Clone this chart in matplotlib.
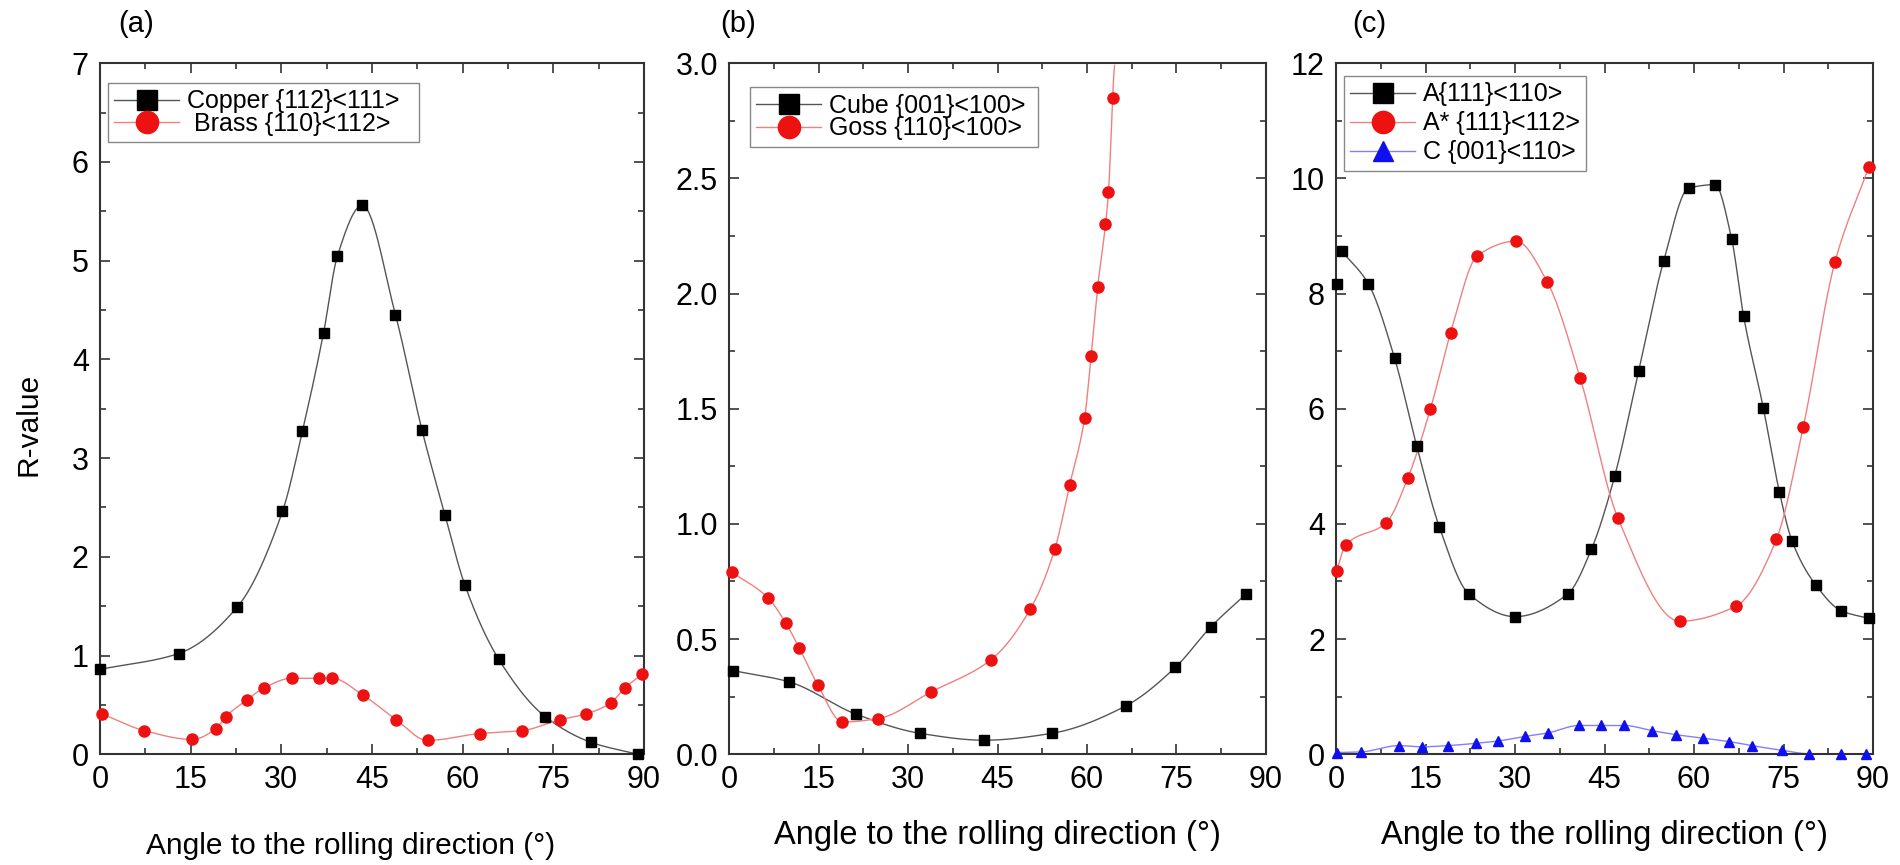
import numpy as np
import matplotlib
matplotlib.use("Agg")
import matplotlib.pyplot as plt
from matplotlib.ticker import MultipleLocator, FormatStrFormatter

plt.rcParams['font.family'] = ['Liberation Sans', 'DejaVu Sans']

# (a) Copper and Brass
copper_x = [0, 13, 22.7, 30.2, 33.5, 37, 39.3, 43.4, 48.9, 53.3, 57.1, 60.4, 66, 73.7, 81.3, 89]
copper_y = [0.86, 1.02, 1.49, 2.46, 3.27, 4.27, 5.05, 5.56, 4.45, 3.28, 2.42, 1.71, 0.96, 0.38, 0.12, 0.0]
brass_x = [0.3, 7.3, 15.3, 19.2, 20.8, 24.3, 27.1, 31.7, 36.2, 38.4, 43.5, 49.0, 54.2, 62.8, 69.9,
           76.1, 80.5, 84.5, 86.8, 89.7]
brass_y = [0.41, 0.24, 0.15, 0.26, 0.38, 0.55, 0.67, 0.77, 0.77, 0.77, 0.60, 0.35, 0.14, 0.21, 0.24,
           0.35, 0.41, 0.52, 0.67, 0.81]

# (b) Cube and Goss
cube_x = [0.7, 10, 21.3, 32, 42.8, 54.1, 66.5, 74.8, 80.8, 86.7]
cube_y = [0.363, 0.315, 0.174, 0.091, 0.061, 0.091, 0.21, 0.377, 0.554, 0.697]
goss_x = [0.5, 6.5, 9.5, 11.8, 14.9, 19.0, 25.0, 33.8, 43.9, 50.5, 54.6, 57.1, 59.6, 60.7, 61.8,
          63.1, 63.6, 64.3]
goss_y = [0.79, 0.68, 0.57, 0.46, 0.30, 0.14, 0.155, 0.27, 0.41, 0.63, 0.89, 1.17, 1.46, 1.73, 2.03,
          2.30, 2.44, 2.85]

# (c) A, A*, C
a_x = [0.1, 1.0, 5.4, 9.8, 13.5, 17.3, 22.2, 30.0, 38.8, 42.8, 46.7, 50.7, 54.9, 59.1, 63.5, 66.3,
       68.3, 71.6, 74.3, 76.4, 80.4, 84.7, 89.3]
a_y = [8.17, 8.73, 8.17, 6.88, 5.36, 3.95, 2.79, 2.39, 2.78, 3.56, 4.83, 6.65, 8.56, 9.83, 9.89, 8.95,
       7.61, 6.02, 4.56, 3.71, 2.94, 2.49, 2.36]
astar_x = [0.1, 1.6, 8.4, 12.0, 15.8, 19.2, 23.7, 30.2, 35.4, 40.9, 47.2, 57.6, 67.0, 73.8, 78.3,
           83.6, 89.3]
astar_y = [3.19, 3.63, 4.02, 4.79, 5.99, 7.32, 8.66, 8.91, 8.20, 6.54, 4.11, 2.31, 2.57, 3.73, 5.68,
           8.54, 10.2]
c_x = [0.1, 4.1, 10.5, 14.4, 18.7, 23.4, 27.1, 31.6, 35.5, 40.7, 44.4, 48.3, 53.0, 57.0, 61.5, 65.9,
       69.7, 74.7, 79.2, 84.6, 88.9]
c_y = [0.03, 0.04, 0.15, 0.13, 0.15, 0.19, 0.23, 0.31, 0.37, 0.50, 0.50, 0.50, 0.41, 0.34, 0.28, 0.22,
       0.15, 0.07, 0.01, 0.01, 0.01]

xlabel = "Angle to the rolling direction (°)"


def smooth(x, y, n=500, extend=1.0):
    # monotone cubic (pchip-like) through the points
    x = np.asarray(x, float)
    y = np.asarray(y, float)
    h = np.diff(x)
    d = np.diff(y) / h
    m = np.zeros_like(y)
    for k in range(1, len(x) - 1):
        if d[k - 1] * d[k] > 0:
            w1 = 2 * h[k] + h[k - 1]
            w2 = h[k] + 2 * h[k - 1]
            m[k] = (w1 + w2) / (w1 / d[k - 1] + w2 / d[k])
    m[0] = d[0]
    m[-1] = d[-1]
    xs = np.linspace(x[0], x[-1] + (extend - 1) * h[-1], n)
    i = np.clip(np.searchsorted(x, xs) - 1, 0, len(h) - 1)
    t = (xs - x[i]) / h[i]
    h00 = 2 * t**3 - 3 * t**2 + 1
    h10 = t**3 - 2 * t**2 + t
    h01 = -2 * t**3 + 3 * t**2
    h11 = t**3 - t**2
    ys = h00 * y[i] + h10 * h[i] * m[i] + h01 * y[i + 1] + h11 * h[i] * m[i + 1]
    return xs, ys


def series(ax, x, y, marker, mcolor, lcolor, label, ms, skip=0, extend=1.0):
    xs, ys = smooth(x[skip:], y[skip:], extend=extend)
    ax.plot(xs, ys, color=lcolor, lw=1.0, zorder=2)
    ax.plot(x, y, ls='none', marker=marker, color=mcolor, mec=mcolor, ms=ms, zorder=3, clip_on=False)
    return ax.plot([], [], color=lcolor, lw=1.0, marker=marker, mfc=mcolor, mec=mcolor, ms=ms,
                   label=label)[0]


def style(ax, ymax, ymajor, fmt=None, xlab_size=21.5, xlab_y=-0.095):
    ax.set_xlim(0, 90)
    ax.set_ylim(0, ymax)
    ax.xaxis.set_major_locator(MultipleLocator(15))
    ax.xaxis.set_minor_locator(MultipleLocator(7.5))
    ax.yaxis.set_major_locator(MultipleLocator(ymajor))
    ax.yaxis.set_minor_locator(MultipleLocator(ymajor / 2))
    if fmt:
        ax.yaxis.set_major_formatter(FormatStrFormatter(fmt))
    ax.tick_params(which='both', direction='in', top=True, right=True, color='#333333', width=1.2)
    ax.tick_params(which='major', length=7, labelsize=22, pad=8)
    ax.tick_params(which='minor', length=4)
    for s in ax.spines.values():
        s.set_color('#333333')
        s.set_linewidth(1.5)
    ax.set_xlabel(xlabel, fontsize=xlab_size)
    ax.xaxis.set_label_coords(0.5, xlab_y)


fig = plt.figure(figsize=(19, 8.65), dpi=100)
ax_a = fig.add_axes([0.0526, 0.128, 0.2863, 0.799])
ax_b = fig.add_axes([0.3837, 0.128, 0.2826, 0.799])
ax_c = fig.add_axes([0.7032, 0.128, 0.2826, 0.799])

leg_kw = dict(fontsize=18, markerscale=2.0, frameon=True, fancybox=False, framealpha=1,
              edgecolor='#888888', handlelength=2.6, borderpad=0.25,
              handletextpad=0.3, borderaxespad=0, loc='upper left')

# panel (a)
h1 = series(ax_a, copper_x, copper_y, 's', 'black', '#555555', 'Copper {112}<111>  ', 7.5)
h2 = series(ax_a, brass_x, brass_y, 'o', '#ee1111', '#f08080', ' Brass {110}<112>', 8)
style(ax_a, 7, 1, xlab_y=-0.112)
ax_a.xaxis.set_label_coords(0.46, -0.112)
ax_a.set_ylabel('R-value', fontsize=21.5)
ax_a.yaxis.set_label_coords(-0.105, 0.478)
ax_a.legend(handles=[h1, h2], bbox_to_anchor=(0.0568, 0.904), bbox_transform=fig.transFigure,
            labelspacing=-0.05, **leg_kw)

# panel (b)
h1 = series(ax_b, cube_x, cube_y, 's', 'black', '#555555', 'Cube {001}<100> ', 7.5)
h2 = series(ax_b, goss_x, goss_y, 'o', '#ee1111', '#f08080', 'Goss {110}<100>', 8, extend=1.45)
style(ax_b, 3.0, 0.5, '%.1f', xlab_size=23.5)
ax_b.legend(handles=[h1, h2], bbox_to_anchor=(0.3947, 0.899), bbox_transform=fig.transFigure,
            labelspacing=-0.05, **leg_kw)

# panel (c)
h1 = series(ax_c, a_x, a_y, 's', 'black', '#555555', 'A{111}<110>', 7.5, skip=1)
h2 = series(ax_c, astar_x, astar_y, 'o', '#ee1111', '#f08080', 'A* {111}<112>', 8)
h3 = series(ax_c, c_x, c_y, '^', '#1010ee', '#8080ff', 'C {001}<110>', 7.5)
style(ax_c, 12, 2, xlab_size=23.5)
ax_c.legend(handles=[h1, h2, h3], bbox_to_anchor=(0.7074, 0.912), bbox_transform=fig.transFigure,
            labelspacing=0.2, **leg_kw)

for lab, xp in [('(a)', 136), ('(b)', 738), ('(c)', 1369)]:
    fig.text(xp / 1900, 1 - 24 / 865, lab, fontsize=21, ha='center', va='center')

fig.savefig('out.png', dpi=100)
